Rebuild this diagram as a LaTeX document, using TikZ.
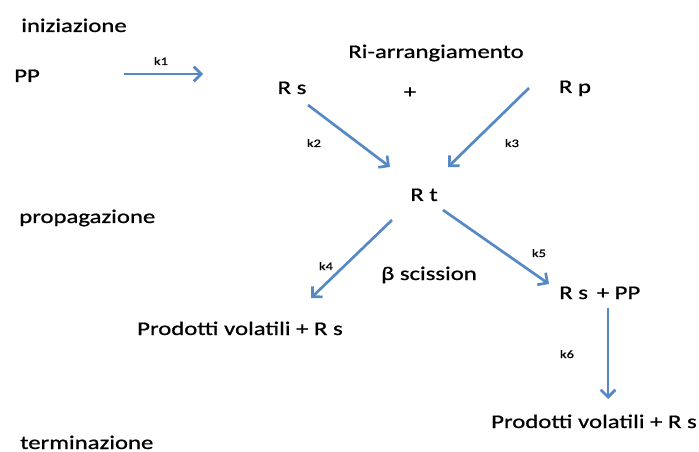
\documentclass[tikz,border=0pt]{standalone}
\usepackage{fontspec}
\setmainfont{Carlito}[FakeStretch=1.28, FakeBold=0.8]
\usetikzlibrary{arrows.meta}
\definecolor{arrowblue}{RGB}{86,137,196}

\begin{document}
\begin{tikzpicture}[x=0.75pt, y=-0.75pt,
    stage/.style={inner sep=0pt, anchor=base west, font=\fontsize{14.5}{17}\selectfont},
    species/.style={inner sep=0pt, anchor=base, font=\fontsize{14.5}{17}\selectfont},
    rate/.style={inner sep=0pt, anchor=base, font=\fontsize{8.5}{10}\selectfont},
    flow/.style={arrowblue, line width=2pt, -{Straight Barb[length=5.5pt,width=11pt]}}]
    \useasboundingbox (0,0) rectangle (699,452);

    % Stages
    \node[stage] (ini) at (21,32) {iniziazione};
    \node[stage] (prop) at (19,223) {propagazione};
    \node[stage] (term) at (20,449) {terminazione};

    % Species
    \node[stage] (pp) at (14,82) {PP};
    \node[species] (riarr) at (436,58) {Ri-arrangiamento};
    \node[species] (rs) at (292,94) {R s};
    \node[species] (plus) at (410,98) {+};
    \node[species] (rp) at (575,93) {R p};
    \node[species] (rt) at (424,201) {R t};
    \node[species] (beta) at (429,280) {β scission};
    \node[stage] (rspp) at (559,299) {R s\, + PP};
    \node[species] (prodl) at (240,335) {Prodotti volatili + R s};
    \node[species] (prodr) at (594,428) {Prodotti volatili + R s};

    % Arrow ends
    \coordinate (k1s) at (124,74);  \coordinate (k1e) at (203,74);
    \coordinate (k2s) at (308,105); \coordinate (k2e) at (390,167);
    \coordinate (k3s) at (529,88);  \coordinate (k3e) at (448,167);
    \coordinate (k4s) at (392,220); \coordinate (k4e) at (311,298);
    \coordinate (k5s) at (443,210); \coordinate (k5e) at (549,284);
    \coordinate (k6s) at (608,308); \coordinate (k6e) at (608,399);

    % Reactions
    \draw[flow] (k1s) -- (k1e);
    \draw[flow] (k2s) -- (k2e);
    \draw[flow] (k3s) -- (k3e);
    \draw[flow] (k4s) -- (k4e);
    \draw[flow] (k5s) -- (k5e);
    \draw[flow] (k6s) -- (k6e);

    % Rate constants
    \node[rate] (k1) at (161,65) {k1};
    \node[rate] (k2) at (314,147) {k2};
    \node[rate] (k3) at (512,147) {k3};
    \node[rate] (k4) at (326,270) {k4};
    \node[rate] (k5) at (539,257) {k5};
    \node[rate] (k6) at (567,358) {k6};
\end{tikzpicture}
\end{document}
